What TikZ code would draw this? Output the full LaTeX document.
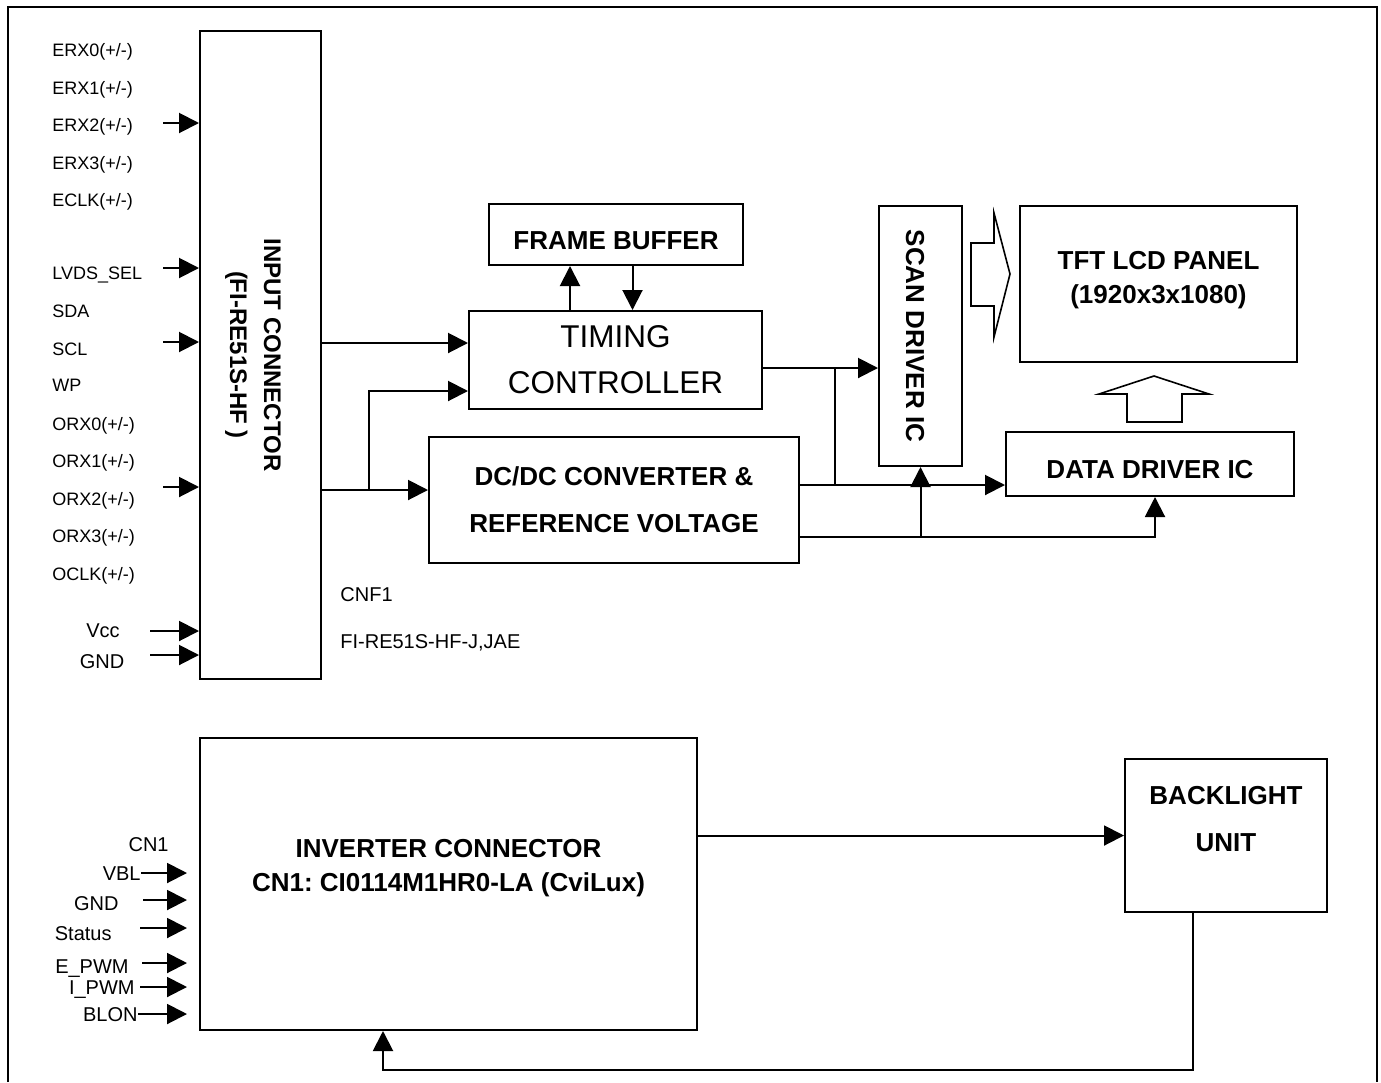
\documentclass[tikz,border=0pt]{standalone}
\usepackage{fontspec}
\setmainfont{Liberation Sans}
\frenchspacing
\usetikzlibrary{arrows.meta}
\begin{document}
\begin{tikzpicture}[x=.5pt,y=-.5pt,
  box/.style={draw,line width=1pt,inner sep=0pt},
  bb/.style={font=\fontsize{13}{17}\selectfont\bfseries},
  arr/.style={line width=1pt,-{Triangle[length=10pt,width=10pt]}},
  sig/.style={font=\fontsize{9}{11}\selectfont,inner sep=0pt,text height=6.45pt,text depth=0pt},
  sigb/.style={font=\fontsize{10}{12}\selectfont,inner sep=0pt,text height=7.15pt,text depth=0pt},
  hollow/.style={line width=.8pt}]
\useasboundingbox (0,0) rectangle (1381,1082);
% outer frame
\draw[line width=1.2pt] (8,1082) -- (8,7) -- (1377,7) -- (1377,1082);

% blocks
\node[box,minimum width=60.5pt,minimum height=324pt] (inp) at (260.5,355) {};
\node[bb,font=\fontsize{12}{17}\selectfont\bfseries,rotate=-90,align=center] (inpT) at ([xshift=-3.75pt]inp.center) {INPUT CONNECTOR\\(FI-RE51S-HF )};
\node[box,bb,text height=14.8pt,text depth=0pt,minimum width=127pt,minimum height=30.5pt] (fb) at (616,234.5) {FRAME BUFFER};
\node[box,align=center,font=\fontsize{15.75}{23}\selectfont,minimum width=146.5pt,minimum height=49pt] (tc) at (615.5,360) {TIMING\\CONTROLLER};
\node[box,bb,align=center,font=\fontsize{13}{23.5}\selectfont\bfseries,minimum width=185pt,minimum height=63pt] (dc) at (614,500) {DC/DC CONVERTER \&\\REFERENCE VOLTAGE};
\node[box,minimum width=41.5pt,minimum height=130pt] (scan) at (920.5,336) {};
\node[bb,rotate=-90] (scanT) at ([xshift=-2.75pt]scan.center) {SCAN DRIVER IC};
\node[box,minimum width=138.5pt,minimum height=78pt] (tft) at (1158.5,284) {};
\node[bb,align=center] (tftT) at ([yshift=2pt]tft.center) {TFT LCD PANEL\\(1920x3x1080)};
\node[box,bb,text height=14.3pt,text depth=0pt,minimum width=144pt,minimum height=32pt] (dd) at (1150,464) {DATA DRIVER IC};
\node[box,minimum width=248.5pt,minimum height=146pt] (inv) at (448.5,884) {};
\node[bb,align=center] (invT) at ([yshift=8pt]inv.center) {INVERTER CONNECTOR\\CN1: CI0114M1HR0-LA (CviLux)};
\node[box,minimum width=101pt,minimum height=76.5pt] (bl) at (1226,835.5) {};
\node[bb,align=center,font=\fontsize{13}{23.5}\selectfont\bfseries] (blT) at ([yshift=8pt]bl.center) {BACKLIGHT\\UNIT};

% hollow arrows to the panel
\draw[hollow] (971,243) -- (994,243) -- (994,213) -- (1010,274) -- (994,337) -- (994,306) -- (971,306) -- cycle;
\draw[hollow] (1127,422) -- (1127,394) -- (1099,394) -- (1154,376) -- (1209,394) -- (1182,394) -- (1182,422) -- cycle;

% input signals
\foreach \y/\t in {50/{ERX0(+/-)},88/{ERX1(+/-)},125/{ERX2(+/-)},163/{ERX3(+/-)},200/{ECLK(+/-)},273/LVDS\_SEL,311/SDA,349/SCL,385/WP,424/{ORX0(+/-)},461/{ORX1(+/-)},499/{ORX2(+/-)},536/{ORX3(+/-)},574/{OCLK(+/-)}}
  \node[sig,anchor=west] (s\y) at (52,\y) {\t};
\foreach \y in {123,268,342,487}{
  \coordinate (p\y) at (163,\y);
  \draw[arr] (p\y) -- (p\y -| inp.west);
}
\node[sigb] (vcc) at (103,630) {Vcc};
\node[sigb] (gndA) at (102,661) {GND};
\coordinate (pv) at (150,631);
\coordinate (pg) at (150,655);
\draw[arr] (pv) -- (pv -| inp.west);
\draw[arr] (pg) -- (pg -| inp.west);
\node[sigb,anchor=west] (cnf) at (340,594) {CNF1};
\node[sigb,anchor=west] (cnfP) at (340,641.5) {FI-RE51S-HF-J,JAE};

% signal paths
\coordinate (t1) at ([yshift=8.5pt]tc.west);
\coordinate (t2) at ([yshift=-15.5pt]tc.west);
\coordinate (d1) at ([yshift=5pt]dc.west);
\draw[arr] (t1 -| inp.east) -- (t1);
\draw[arr] (d1 -| inp.east) -- (d1);
\coordinate (jb) at (369,490);
\draw[arr] (jb) |- (t2);
\coordinate (u1) at ([xshift=-22.75pt]tc.north);
\draw[arr] (u1) -- (u1 |- fb.south);
\coordinate (u2) at ([xshift=8.25pt]fb.south);
\draw[arr] (u2) -- (u2 |- tc.north);
\coordinate (t3) at ([yshift=-4pt]tc.east);
\draw[arr] (t3) -- (t3 -| scan.west);
\coordinate (d2) at ([yshift=7.5pt]dc.east);
\coordinate (d3) at ([yshift=-18.5pt]dc.east);
\coordinate (jt) at ([xshift=36pt]t3);
\draw[line width=1pt] (jt) -- (jt |- d2);
\draw[arr] (d2) -- (d2 -| dd.west);
\coordinate (u3) at ([xshift=2.5pt]dd.south);
\draw[arr] (d3) -| (u3);
\draw[arr] (d3 -| scan.south) -- (scan.south);

% inverter side
\foreach \y/\r/\t in {844/169/CN1,873/141/VBL,903/119/GND,933/112/Status,966/129/E\_PWM,987/135/I\_PWM,1014/138/BLON}
  \node[sigb,anchor=east] (b\y) at (\r,\y) {\t};
\foreach \y/\s in {873/141,900/143,928/140,963/142,987/140,1014/138}{
  \coordinate (q\y) at (\s,\y);
  \draw[arr] (q\y) -- ([xshift=-6pt]q\y -| inv.west);
}
\draw[arr] (inv.east |- bl.west) -- (bl.west);
\coordinate (u4) at ([xshift=-16.5pt]bl.south);
\coordinate (u5) at ([xshift=-32.75pt]inv.south);
\coordinate (u6) at ([yshift=-78.5pt]u4);
\draw[arr] (u4) -- (u6) -| (u5);
\end{tikzpicture}
\end{document}
